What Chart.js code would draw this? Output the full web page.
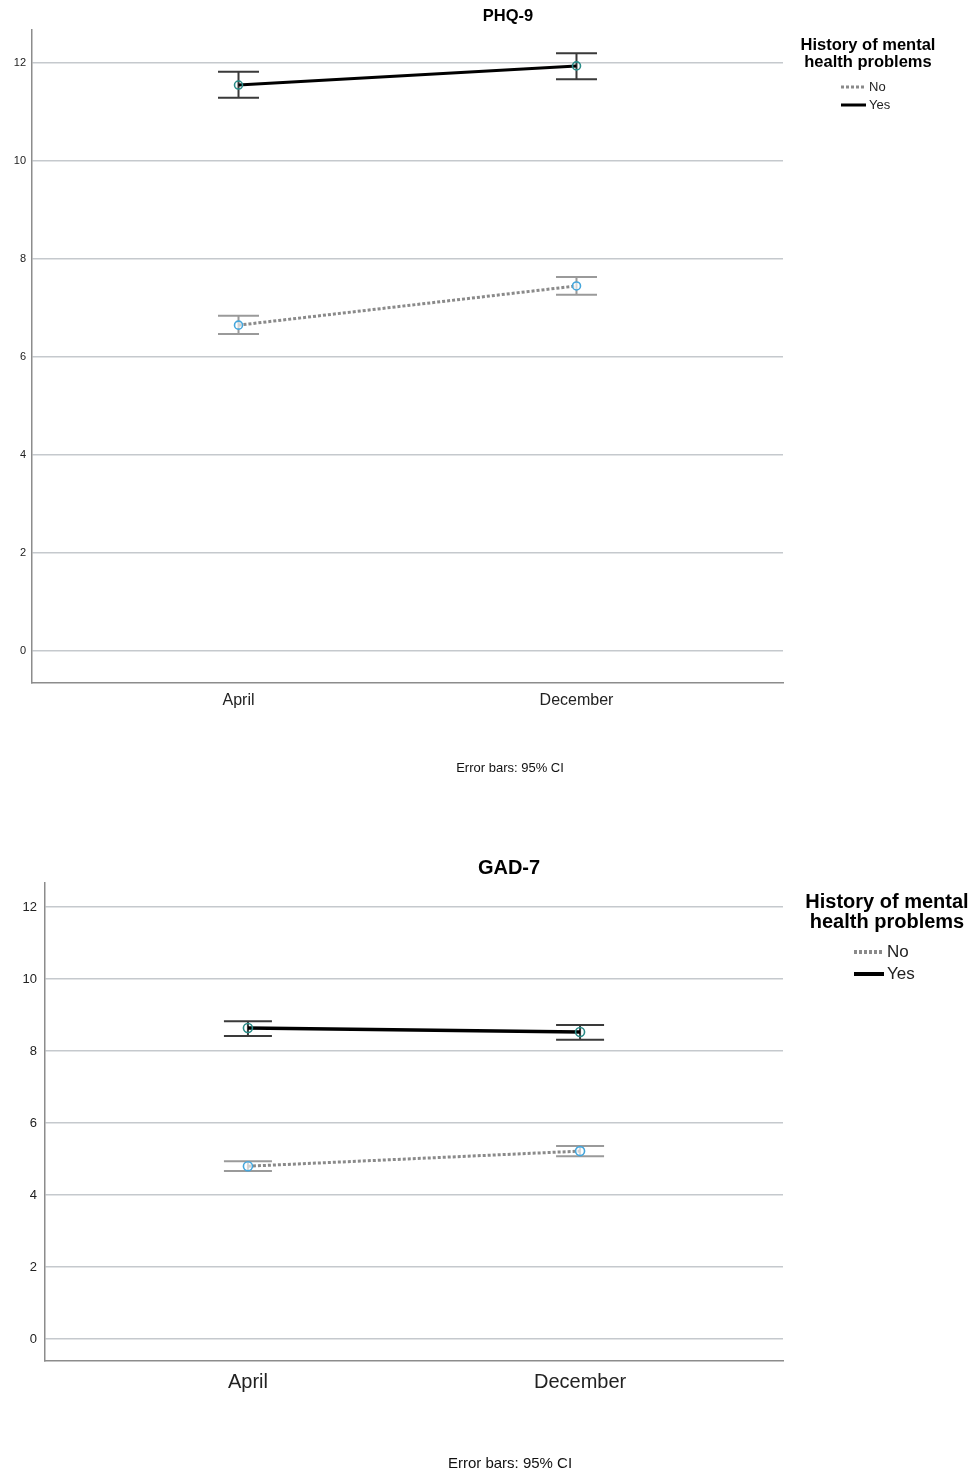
<!DOCTYPE html>
<html>
<head>
<meta charset="utf-8">
<script src="https://cdn.jsdelivr.net/npm/chart.js@4.4.1/dist/chart.umd.min.js"></script>
<style>
body { margin: 0; background: #fff; }
canvas { position: absolute; left: 0; }
</style>
</head>
<body>
<canvas id="phq" width="978" height="800" style="top:0"></canvas>
<canvas id="gad" width="978" height="633" style="top:840px"></canvas>
<script>
const categorias = ['April', 'December'];
const rotulosY = [0, 2, 4, 6, 8, 10, 12];
const legendaTitulo = ['History of mental', 'health problems'];
const grupos = ['No', 'Yes'];
const rodape = 'Error bars: 95% CI';

// PHQ-9
const phqNo = [6.65, 7.45];
const phqNoMin = [6.47, 7.27];
const phqNoMax = [6.84, 7.63];
const phqYes = [11.55, 11.94];
const phqYesMin = [11.29, 11.67];
const phqYesMax = [11.82, 12.20];

// GAD-7
const gadNo = [4.80, 5.22];
const gadNoMin = [4.67, 5.08];
const gadNoMax = [4.94, 5.36];
const gadYes = [8.64, 8.53];
const gadYesMin = [8.42, 8.31];
const gadYesMax = [8.83, 8.72];

const FONTE = '"Liberation Sans", Arial, sans-serif';

function pontos(valores) {
	return valores.map((v, i) => ({ x: i, y: v }));
}

// barras de erro (IC 95%) desenhadas antes das linhas
const pluginBarrasErro = {
	id: 'barrasErro',
	beforeDatasetsDraw(chart, args, opts) {
		const ctx = chart.ctx;
		const sx = chart.scales.x, sy = chart.scales.y;
		chart.data.datasets.forEach(ds => {
			ctx.save();
			ctx.strokeStyle = ds.corErro;
			ctx.lineWidth = opts.largura;
			ds.errMin.forEach((lo, i) => {
				const x = sx.getPixelForValue(i);
				const y1 = sy.getPixelForValue(lo);
				const y2 = sy.getPixelForValue(ds.errMax[i]);
				const c = opts.cap / 2;
				ctx.beginPath();
				ctx.moveTo(x, y1); ctx.lineTo(x, y2);
				ctx.moveTo(x - c, y1); ctx.lineTo(x + c, y1);
				ctx.moveTo(x - c, y2); ctx.lineTo(x + c, y2);
				ctx.stroke();
			});
			ctx.restore();
		});
	}
};

// título, legenda e rodapé no estilo SPSS
const pluginTextos = {
	id: 'textos',
	afterDraw(chart, args, o) {
		const ctx = chart.ctx;
		ctx.save();
		ctx.fillStyle = '#000';
		ctx.textBaseline = 'middle';
		ctx.textAlign = 'center';
		ctx.font = `bold ${o.tamTitulo}px ${FONTE}`;
		ctx.fillText(o.titulo, o.tituloX, o.tituloY);

		ctx.font = `bold ${o.tamLegenda}px ${FONTE}`;
		legendaTitulo.forEach((t, i) => ctx.fillText(t, o.legX, o.legY + i * o.legPasso));

		ctx.textAlign = 'left';
		ctx.font = `${o.tamItem}px ${FONTE}`;
		chart.data.datasets.forEach((ds, i) => {
			const y = o.itemY + i * o.itemPasso;
			ctx.beginPath();
			ctx.strokeStyle = ds.borderColor;
			ctx.lineWidth = o.itemLinha;
			ctx.setLineDash(ds.borderDash || []);
			ctx.moveTo(o.itemX, y);
			ctx.lineTo(o.itemX + o.itemLarg, y);
			ctx.stroke();
			ctx.setLineDash([]);
			ctx.fillStyle = '#222';
			ctx.fillText(ds.label, o.itemX + o.itemLarg + 3, y);
		});

		ctx.textAlign = 'center';
		ctx.fillStyle = '#111';
		ctx.font = `${o.tamRodape}px ${FONTE}`;
		ctx.fillText(rodape, o.rodapeX, o.rodapeY);
		ctx.restore();
	}
};

function montaGrafico(id, no, noMin, noMax, yes, yesMin, yesMax, cfg) {
	return new Chart(document.getElementById(id), {
		type: 'line',
		data: {
			datasets: [
				{
					label: grupos[0],
					data: pontos(no),
					errMin: noMin,
					errMax: noMax,
					corErro: '#9a9a9a',
					borderColor: '#8a8a8a',
					borderWidth: 3,
					borderDash: [3, 2],
					pointRadius: cfg.raio,
					pointBorderWidth: 1.6,
					pointBorderColor: '#45a6dc',
					pointBackgroundColor: 'rgba(255,255,255,0.6)'
				},
				{
					label: grupos[1],
					data: pontos(yes),
					errMin: yesMin,
					errMax: yesMax,
					corErro: '#3a3a3a',
					borderColor: '#000',
					borderWidth: cfg.linhaYes,
					pointRadius: cfg.raio,
					pointBorderWidth: 1.6,
					pointBorderColor: '#2b8c88',
					pointBackgroundColor: 'rgba(0,0,0,0)'
				}
			]
		},
		options: {
			responsive: false,
			animation: false,
			layout: { padding: cfg.padding },
			scales: {
				x: {
					type: 'linear',
					min: -0.611,
					max: 1.611,
					afterBuildTicks: s => { s.ticks = categorias.map((c, i) => ({ value: i })); },
					afterFit: s => { s.height = cfg.alturaX; },
					ticks: {
						callback: v => categorias[v],
						color: '#222',
						padding: cfg.padX,
						font: { family: FONTE, size: cfg.tamX }
					},
					grid: { display: false },
					border: { display: true, color: '#8c8c8c', width: 1.5 }
				},
				y: {
					min: cfg.yMin,
					max: cfg.yMax,
					afterBuildTicks: s => { s.ticks = rotulosY.map(v => ({ value: v })); },
					afterFit: s => { s.width = cfg.larguraY; },
					ticks: {
						color: '#222',
						padding: cfg.padY,
						font: { family: FONTE, size: cfg.tamY }
					},
					grid: { color: '#c5c9cd', lineWidth: 1.5, drawTicks: false },
					border: { display: true, color: '#8c8c8c', width: 1.5 }
				}
			},
			plugins: {
				legend: { display: false },
				tooltip: { enabled: false },
				barrasErro: { largura: 2, cap: cfg.cap },
				textos: cfg.textos
			}
		},
		plugins: [pluginBarrasErro, pluginTextos]
	});
}

window.onload = () => {
	montaGrafico('phq', phqNo, phqNoMin, phqNoMax, phqYes, phqYesMin, phqYesMax, {
		padding: { top: 30, right: 195, bottom: 77, left: 0 },
		alturaX: 40, larguraY: 32, padX: 0, padY: 6, tamX: 16, tamY: 11,
		yMin: -0.653, yMax: 12.673, raio: 4, linhaYes: 3, cap: 41,
		textos: {
			titulo: 'PHQ-9', tamTitulo: 16.5, tituloX: 508, tituloY: 16,
			tamLegenda: 16.5, legX: 868, legY: 45, legPasso: 17,
			tamItem: 13, itemX: 841, itemY: 87, itemPasso: 18, itemLarg: 25, itemLinha: 3,
			tamRodape: 13, rodapeX: 510, rodapeY: 768
		}
	});
	montaGrafico('gad', gadNo, gadNoMin, gadNoMax, gadYes, gadYesMin, gadYesMax, {
		padding: { top: 43, right: 195, bottom: 67, left: 0 },
		alturaX: 45, larguraY: 45, padX: 1, padY: 8, tamX: 20, tamY: 13,
		yMin: -0.611, yMax: 12.667, raio: 4.5, linhaYes: 3.5, cap: 48,
		textos: {
			titulo: 'GAD-7', tamTitulo: 20, tituloX: 509, tituloY: 28,
			tamLegenda: 20, legX: 887, legY: 62, legPasso: 20,
			tamItem: 17, itemX: 854, itemY: 112, itemPasso: 22, itemLarg: 30, itemLinha: 4,
			tamRodape: 15, rodapeX: 510, rodapeY: 624
		}
	});
};
</script>
</body>
</html>
